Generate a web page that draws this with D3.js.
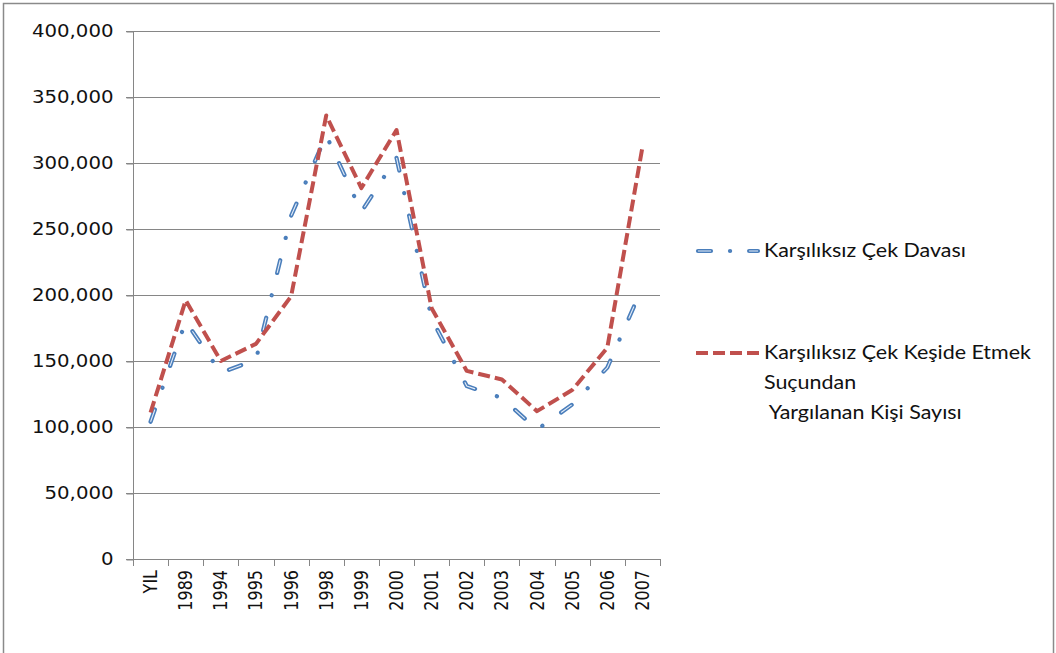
<!DOCTYPE html>
<html>
<head>
<meta charset="utf-8">
<script src="https://cdn.jsdelivr.net/npm/d3@7"></script>
<style>
  html, body { margin: 0; padding: 0; background: #fff; }
  svg { display: block; }
</style>
</head>
<body>
<svg id="chart" width="1056" height="653"></svg>
<script>
// ---- data ----
const categories = ["YIL", "1989", "1994", "1995", "1996", "1998", "1999", "2000",
                    "2001", "2002", "2003", "2004", "2005", "2006", "2007"];
const davaValues = [104000, 180000, 141000, 151000, 260000, 321000, 263000, 304000,
                    182000, 131000, 122000, 98000, 117000, 145000, 206000];
const yargilananValues = [111000, 196000, 150000, 163000, 199000, 336000, 281000, 325000,
                          190000, 142500, 136000, 112000, 128000, 160000, 312000];
const yTicks = [0, 50000, 100000, 150000, 200000, 250000, 300000, 350000, 400000];
const seriesNames = ["Karşılıksız Çek Davası",
                     ["Karşılıksız Çek Keşide Etmek", "Suçundan", " Yargılanan Kişi Sayısı"]];

// ---- layout ----
const svg = d3.select("#chart");
const plot = { left: 133, right: 660, top: 31, bottom: 559 };
const gridColor = "#868686";
const blue = "#4A7EBB", red = "#C0504D";
const hStretch = 1.16;

// frame
svg.append("rect")
  .attr("x", 3.5).attr("y", 3.5).attr("width", 1050).attr("height", 670)
  .attr("fill", "#fff").attr("stroke", "#8a8a8a").attr("stroke-width", 1.5);

const x = d3.scaleBand().domain(categories).range([plot.left, plot.right]).padding(0);
const y = d3.scaleLinear().domain([0, 400000]).range([plot.bottom, plot.top]);

// gridlines
svg.append("g").selectAll("line").data(yTicks).join("line")
  .attr("x1", plot.left - 7).attr("x2", plot.right)
  .attr("y1", d => Math.round(y(d)) + 0.5).attr("y2", d => Math.round(y(d)) + 0.5)
  .attr("stroke", gridColor).attr("stroke-width", 1);

// y axis
const yAxis = svg.append("g")
  .attr("transform", `translate(${plot.left + 0.5},0.5)`)
  .call(d3.axisLeft(y).tickValues(yTicks).tickSize(7).tickPadding(13)
        .tickFormat(d3.format(",")));
yAxis.select(".domain").attr("stroke", gridColor).attr("d", `M0,${plot.top}V${plot.bottom}`);
yAxis.selectAll(".tick line").attr("stroke", gridColor);
yAxis.selectAll("text")
  .attr("x", -20 / hStretch)
  .attr("transform", `scale(${hStretch},1)`)
  .attr("font-family", "DejaVu Sans").attr("font-size", "17px").attr("fill", "#111");

// x axis: ticks at category boundaries
const boundaries = categories.map(c => x(c)).concat([plot.right]);
svg.append("g").selectAll("line").data(boundaries).join("line")
  .attr("x1", d => Math.round(d) + 0.5).attr("x2", d => Math.round(d) + 0.5)
  .attr("y1", plot.bottom).attr("y2", plot.bottom + 7)
  .attr("stroke", gridColor);
svg.append("line")
  .attr("x1", plot.left).attr("x2", plot.right)
  .attr("y1", plot.bottom + 0.5).attr("y2", plot.bottom + 0.5)
  .attr("stroke", gridColor);
svg.append("g").selectAll("text").data(categories).join("text")
  .attr("transform", d => `translate(${x(d) + x.bandwidth() / 2 + 6.5},${plot.bottom + 11}) scale(${hStretch},1) rotate(-90)`)
  .attr("text-anchor", "end")
  .attr("font-family", "DejaVu Sans").attr("font-size", "16px").attr("fill", "#111")
  .text(d => d);

// lines
const cx = c => x(c) + x.bandwidth() / 2;
const line = d3.line().x((d, i) => cx(categories[i])).y(d => y(d));

const blueDash = "13,23,0.1,23";
svg.append("path").datum(davaValues)
  .attr("d", line).attr("fill", "none")
  .attr("stroke", blue).attr("stroke-width", 4.2)
  .attr("stroke-dasharray", blueDash)
  .attr("stroke-linecap", "round").attr("stroke-linejoin", "round");
svg.append("path").datum(davaValues)
  .attr("d", line).attr("fill", "none")
  .attr("stroke", "#e4ecf7").attr("stroke-width", 1.1)
  .attr("stroke-dasharray", blueDash)
  .attr("stroke-linecap", "butt");

svg.append("path").datum(yargilananValues)
  .attr("d", line).attr("fill", "none")
  .attr("stroke", red).attr("stroke-width", 4)
  .attr("stroke-dasharray", "12,5")
  .attr("stroke-linecap", "butt").attr("stroke-linejoin", "round");

// legend
const lg = svg.append("g");
const lx1 = 698, lx2 = 758;
lg.append("line").attr("x1", lx1).attr("x2", lx2).attr("y1", 251).attr("y2", 251)
  .attr("stroke", blue).attr("stroke-width", 4.2)
  .attr("stroke-dasharray", "13,19,0.1,19").attr("stroke-linecap", "round");
lg.append("line").attr("x1", lx1).attr("x2", lx2).attr("y1", 251).attr("y2", 251)
  .attr("stroke", "#e4ecf7").attr("stroke-width", 1.1)
  .attr("stroke-dasharray", "13,19,0.1,19");
lg.append("line").attr("x1", 696).attr("x2", 761).attr("y1", 353).attr("y2", 353)
  .attr("stroke", red).attr("stroke-width", 4)
  .attr("stroke-dasharray", "12,5");

const legendFont = { family: "Lato", size: "18.5px" };
lg.append("text")
  .attr("transform", `translate(764,257) scale(${hStretch},1)`)
  .attr("font-family", legendFont.family).attr("font-size", legendFont.size).attr("fill", "#111")
  .text(seriesNames[0]);
const t2 = lg.append("text")
  .attr("transform", `translate(764,0) scale(${hStretch},1)`)
  .attr("font-family", legendFont.family).attr("font-size", legendFont.size).attr("fill", "#111")
  .attr("xml:space", "preserve").style("white-space", "pre");
seriesNames[1].forEach((s, i) => {
  t2.append("tspan").attr("x", 0).attr("y", 359 + i * 30).text(s);
});
</script>
</body>
</html>
